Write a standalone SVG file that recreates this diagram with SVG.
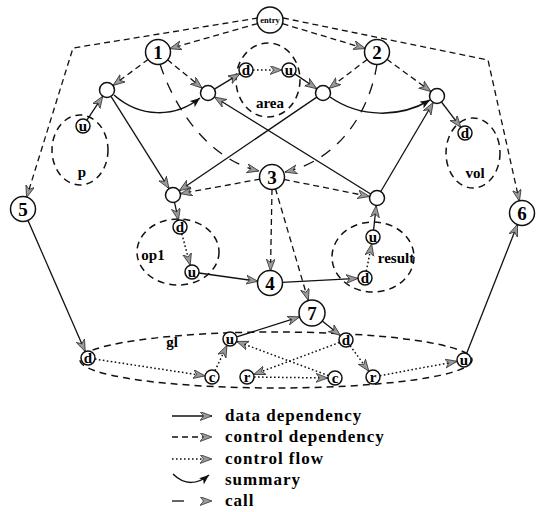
<svg xmlns="http://www.w3.org/2000/svg" width="539" height="512" viewBox="0 0 539 512">
<defs>
<marker id="ah" markerUnits="userSpaceOnUse" markerWidth="14" markerHeight="10" refX="12" refY="4.5" orient="auto">
<path d="M0,0 L12,4.5 L0,9 L3.5,4.5 Z" fill="#999" stroke="#222" stroke-width="0.7"/>
</marker>
<marker id="sh" markerUnits="userSpaceOnUse" markerWidth="12" markerHeight="10" refX="10" refY="4" orient="auto">
<path d="M0,0 L10,4 L0,8 L2.5,4 Z" fill="#111"/>
</marker>
<style>
.e{fill:none;stroke:#111;stroke-width:1.3;marker-end:url(#ah)}
.ctl{stroke-dasharray:6 4}
.flow{stroke-dasharray:1.6 2.4;stroke-width:1.5}
.call{stroke-dasharray:11 9}
.sum{fill:none;stroke:#111;stroke-width:1.5;marker-end:url(#sh)}
.reg{fill:none;stroke:#111;stroke-width:1.5;stroke-dasharray:7 5}
.n{fill:#fff;stroke:#111;stroke-width:1.5}
.big{font-family:"Liberation Serif",serif;font-weight:bold;font-size:19px;text-anchor:middle}
.let{font-family:"Liberation Serif",serif;font-weight:bold;font-size:15px;text-anchor:middle}
.lab{font-family:"Liberation Serif",serif;font-weight:bold;font-size:15px;text-anchor:middle}
.leg{font-family:"Liberation Serif",serif;font-weight:bold;font-size:17px;letter-spacing:1px}
</style>
</defs>
<rect width="539" height="512" fill="#fff"/>

<g id="regions">
<g id="area"><ellipse class="reg" cx="268" cy="80" rx="32" ry="37"/><text class="lab" x="270" y="108">area</text></g>
<g id="p"><ellipse class="reg" cx="80" cy="150" rx="28" ry="35"/><text class="lab" x="82" y="177">p</text></g>
<g id="vol"><ellipse class="reg" cx="473" cy="153" rx="27" ry="35"/><text class="lab" x="475" y="178">vol</text></g>
<g id="op1"><ellipse class="reg" cx="178" cy="252" rx="41" ry="33"/><text class="lab" x="153" y="260">op1</text></g>
<g id="result"><ellipse class="reg" cx="373" cy="257" rx="41" ry="35"/><text class="lab" x="396" y="263">result</text></g>
<g id="gl"><ellipse class="reg" cx="276" cy="360" rx="196" ry="28"/><text class="lab" x="172" y="347">gl</text></g>
</g>

<g id="connectors">
<path class="e ctl" d="M257.5,23.6 L169.5,48.7"/>
<path class="e ctl" d="M282.5,23.7 L365.5,48.6"/>
<path class="e ctl" d="M258,18 L73,48 L26.6,197.5"/>
<path class="e ctl" d="M283,18 L488,60 L519.4,201.3"/>
<path class="e ctl" d="M148.4,59.2 L113,85.5"/>
<path class="e ctl" d="M167.3,59.6 L202.2,88.2"/>
<path class="e ctl" d="M367.4,59.3 L329,88.5"/>
<path class="e ctl" d="M386.7,59.1 L431,91.6"/>
<path class="e ctl" d="M260.2,179.1 L180.4,193.7"/>
<path class="e ctl" d="M283.8,179.4 L369.6,196.5"/>
<path class="e ctl" d="M272,189 L270.5,271"/>
<path class="e ctl" d="M275.4,188.5 L308.3,300.5"/>
<path class="e" d="M174.5,202.3 L178.5,220.2"/>
<path class="e" d="M214.4,89.1 L240,73.6"/>
<path class="e" d="M294.8,73.9 L316.8,88.8"/>
<path class="e" d="M86.9,120.2 L102.8,96.2"/>
<path class="e" d="M441.5,102 L460.8,127.4"/>
<path class="e" d="M198.9,273 L258.1,281.3"/>
<path class="e" d="M282,282.4 L358,278.4"/>
<path class="e" d="M373.6,230 L376.2,205.5"/>
<path class="e" d="M111,96.4 L169,188.6"/>
<path class="e" d="M317.2,96.9 L179.2,190.8"/>
<path class="e" d="M371.1,194.3 L214.4,97"/>
<path class="e" d="M380.8,191.5 L433.2,102.5"/>
<path class="e" d="M27.8,220 L85.2,351.6"/>
<path class="e" d="M466.6,353.5 L517.6,224.2"/>
<path class="e" d="M236.7,336.9 L299.6,316.9"/>
<path class="e" d="M322.2,321.1 L340.5,335.6"/>
<path class="e flow" d="M253,70 L282,70"/>
<path class="e flow" d="M181.8,233.8 L190.2,265.2"/>
<path class="e flow" d="M366.3,271.1 L371.7,243.9"/>
<path class="e flow" d="M94.9,359.1 L205.1,375.9"/>
<path class="e flow" d="M215,370.7 L227,345.3"/>
<path class="e flow" d="M254,377 L328,378"/>
<path class="e flow" d="M328.4,375.6 L236.6,341.4"/>
<path class="e flow" d="M339.4,342.5 L253.6,374.5"/>
<path class="e flow" d="M350.1,345.7 L368.9,371.3"/>
<path class="e flow" d="M379.9,375.7 L457.1,361.3"/>
<path class="sum" d="M114,95 C140,118 175,118 200,98"/>
<path class="sum" d="M330,97 C360,118 400,118 430,100"/>
<path class="e call" d="M160,64 C175,110 210,160 259,171"/>
<path class="e call" d="M377,64 C370,110 340,160 285,172"/>
</g>

<g id="entry"><circle class="n" cx="270" cy="20" r="13"/><text x="270" y="23" font-family="Liberation Serif,serif" font-weight="bold" font-size="8.5" text-anchor="middle">entry</text></g>
<g id="n1"><circle class="n" cx="158" cy="52" r="12.5"/><text class="big" x="158" y="58.5">1</text></g>
<g id="n2"><circle class="n" cx="377" cy="52" r="12.5"/><text class="big" x="377" y="58.5">2</text></g>
<g id="n3"><circle class="n" cx="272" cy="177" r="12.5"/><text class="big" x="272" y="183.5">3</text></g>
<g id="n4"><circle class="n" cx="270" cy="283" r="12.5"/><text class="big" x="270" y="289.5">4</text></g>
<g id="n5"><circle class="n" cx="23" cy="209" r="12.5"/><text class="big" x="23" y="215.5">5</text></g>
<g id="n6"><circle class="n" cx="522" cy="213" r="12.5"/><text class="big" x="522" y="219.5">6</text></g>
<g id="n7"><circle class="n" cx="312" cy="313" r="13"/><text class="big" x="312" y="319.5">7</text></g>

<g id="ai_p"><circle class="n" cx="107" cy="90" r="7.5"/></g>
<g id="ai_area"><circle class="n" cx="208" cy="93" r="7.5"/></g>
<g id="ao_area"><circle class="n" cx="323" cy="93" r="7.5"/></g>
<g id="ai_vol"><circle class="n" cx="437" cy="96" r="7.5"/></g>
<g id="ai_op1"><circle class="n" cx="173" cy="195" r="7.5"/></g>
<g id="ao_result"><circle class="n" cx="377" cy="198" r="7.5"/></g>

<g id="area_d"><circle class="n" cx="246" cy="70" r="7"/><text class="let" x="246" y="75">d</text></g>
<g id="area_u"><circle class="n" cx="289" cy="70" r="7"/><text class="let" x="289" y="74.5">u</text></g>
<g id="p_u"><circle class="n" cx="83" cy="126" r="7"/><text class="let" x="83" y="130.5">u</text></g>
<g id="vol_d"><circle class="n" cx="465" cy="133" r="7"/><text class="let" x="465" y="138">d</text></g>
<g id="op1_d"><circle class="n" cx="180" cy="227" r="7"/><text class="let" x="180" y="232">d</text></g>
<g id="op1_u"><circle class="n" cx="192" cy="272" r="7"/><text class="let" x="192" y="276.5">u</text></g>
<g id="result_u"><circle class="n" cx="373" cy="237" r="7"/><text class="let" x="373" y="241.5">u</text></g>
<g id="result_d"><circle class="n" cx="365" cy="278" r="7"/><text class="let" x="365" y="283">d</text></g>
<g id="gl_d"><circle class="n" cx="88" cy="358" r="7"/><text class="let" x="88" y="363">d</text></g>
<g id="gl_u"><circle class="n" cx="230" cy="339" r="7"/><text class="let" x="230" y="343.5">u</text></g>
<g id="gl_c"><circle class="n" cx="212" cy="377" r="7"/><text class="let" x="212" y="381.5">c</text></g>
<g id="gl_r"><circle class="n" cx="247" cy="377" r="7"/><text class="let" x="247" y="381.5">r</text></g>
<g id="gl_c2"><circle class="n" cx="335" cy="378" r="7"/><text class="let" x="335" y="382.5">c</text></g>
<g id="gl_d2"><circle class="n" cx="346" cy="340" r="7"/><text class="let" x="346" y="345">d</text></g>
<g id="gl_r2"><circle class="n" cx="373" cy="377" r="7"/><text class="let" x="373" y="381.5">r</text></g>
<g id="gl_u2"><circle class="n" cx="464" cy="360" r="7"/><text class="let" x="464" y="364.5">u</text></g>

<g id="legend">
<path class="e" d="M172,416 L212,416"/>
<path class="e ctl" d="M172,437 L212,437"/>
<path class="e flow" d="M172,459 L212,459"/>
<path class="sum" d="M173,474 C185,486 198,484 209,475"/>
<path d="M172,501 L184,501" stroke="#111" stroke-width="1.3"/>
<path class="e" d="M197,501 L212,501" stroke-opacity="0"/>
<text class="leg" x="225" y="421">data dependency</text>
<text class="leg" x="225" y="442">control dependency</text>
<text class="leg" x="225" y="464">control flow</text>
<text class="leg" x="225" y="485">summary</text>
<text class="leg" x="225" y="506">call</text>
</g>
</svg>
